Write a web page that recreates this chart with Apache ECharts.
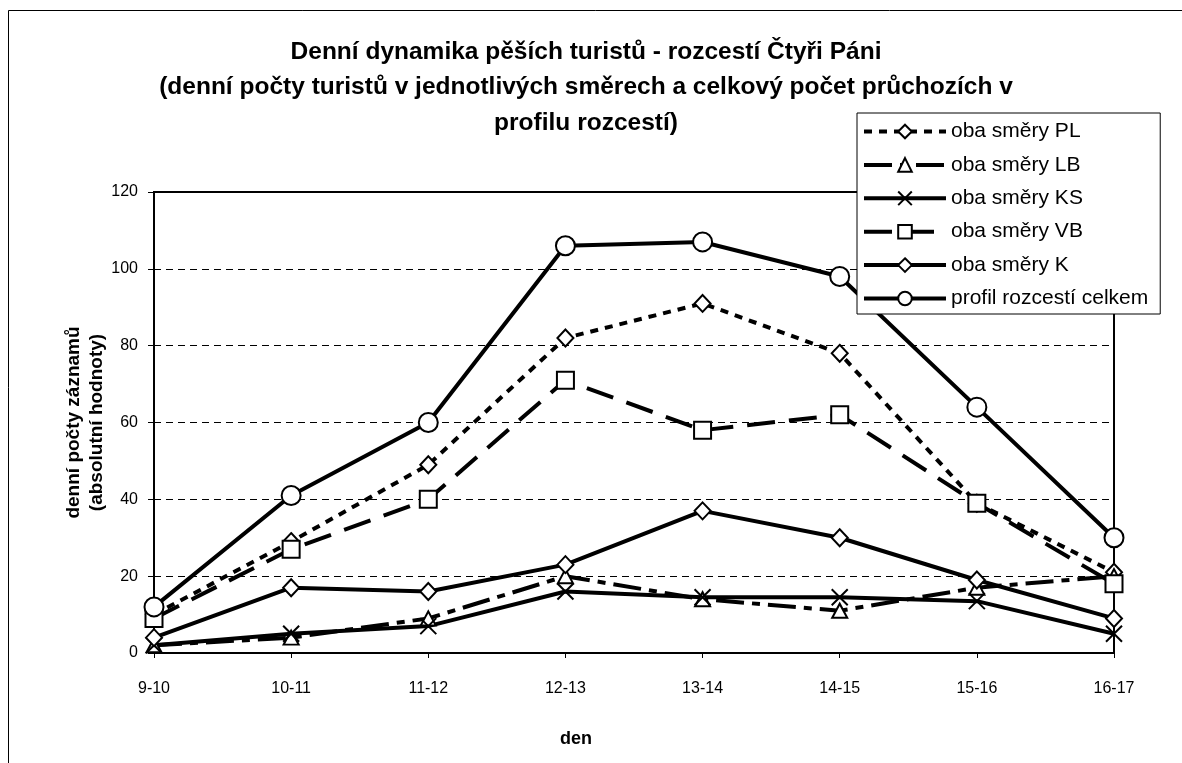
<!DOCTYPE html>
<html>
<head>
<meta charset="utf-8">
<script src="https://cdn.jsdelivr.net/npm/echarts@6/dist/echarts.min.js"></script>
<style>html,body{margin:0;padding:0;background:#fff;}#c{width:1182px;height:763px;}</style>
</head>
<body>
<div id="c"></div>
<script>
const categories = ['9-10','10-11','11-12','12-13','13-14','14-15','15-16','16-17'];
const seriesNames = ['oba směry PL','oba směry LB','oba směry KS','oba směry VB','oba směry K','profil rozcestí celkem'];
const valuesPL = [10, 29, 49, 82, 91, 78, 39, 21];
const valuesLB = [2, 4, 9, 20, 14, 11, 17, 20];
const valuesKS = [2, 5, 7, 16, 14.5, 14.5, 13.5, 5];
const valuesVB = [9, 27, 40, 71, 58, 62, 39, 18];
const valuesK = [4, 17, 16, 23, 37, 30, 19, 9];
const valuesTotal = [12, 41, 60, 106, 107, 98, 64, 30];
const yTicks = {min: 0, max: 120, interval: 20};

const FONT = '"Liberation Sans", Arial, sans-serif';
const chart = echarts.init(document.getElementById('c'), null, {renderer: 'canvas'});

function mk(name, data, symbol, size, dash) {
  return {
    name: name, type: 'line', data: data,
    symbol: symbol, symbolSize: size, showSymbol: true,
    lineStyle: {color: '#000', width: 4, type: dash},
    itemStyle: {color: '#fff', borderColor: '#000', borderWidth: 2},
    emphasis: {disabled: true},
    animation: false
  };
}
const X_PATH = 'path://M0,0L10,10M10,0L0,10';

const option = {
  backgroundColor: '#fff',
  animation: false,
  title: {
    text: 'Denní dynamika pěších turistů - rozcestí Čtyři Páni\n(denní počty turistů v jednotlivých směrech a celkový počet průchozích v\nprofilu rozcestí)',
    left: 581, top: 29, textAlign: 'center',
    textStyle: {fontFamily: FONT, fontSize: 24.5, fontWeight: 'bold', color: '#000', lineHeight: 35.5}
  },
  legend: {
    orient: 'vertical', left: 857, top: 113,
    padding: [8, 12, 5, 5],
    itemWidth: 82, itemHeight: 17, itemGap: 12.4,
    backgroundColor: '#fff', borderColor: '#000', borderWidth: 1,
    lineStyle: {width: 4},
    textStyle: {fontFamily: FONT, fontSize: 21, color: '#000'},
    data: seriesNames
  },
  grid: {left: 154, right: 68, top: 192, bottom: 110, show: true, borderColor: '#000', borderWidth: 2, containLabel: false},
  xAxis: {
    type: 'category', data: categories, boundaryGap: false,
    axisLine: {lineStyle: {color: '#000', width: 2}},
    axisTick: {show: true, length: 5, lineStyle: {color: '#000', width: 1}},
    axisLabel: {fontFamily: FONT, fontSize: 16, color: '#000', margin: 28}
  },
  yAxis: {
    type: 'value', min: yTicks.min, max: yTicks.max, interval: yTicks.interval,
    name: 'denní počty záznamů\n(absolutní hodnoty)',
    nameLocation: 'middle', nameRotate: 90, nameGap: 46, nameMoveOverlap: false,
    nameTextStyle: {fontFamily: FONT, fontSize: 19, fontWeight: 'bold', color: '#000', lineHeight: 23},
    axisLine: {show: true, lineStyle: {color: '#000', width: 2}},
    axisTick: {show: true, length: 6, lineStyle: {color: '#000', width: 1}},
    axisLabel: {fontFamily: FONT, fontSize: 16, color: '#000', margin: 16},
    splitLine: {show: true, lineStyle: {color: '#000', width: 1, type: [7, 5]}}
  },
  graphic: [
    {type: 'rect', silent: true, z: -10, shape: {x: 8.5, y: 10.5, width: 1400, height: 1000}, style: {fill: 'none', stroke: '#000', lineWidth: 1}},
    {type: 'text', silent: true, left: 560, top: 730, style: {text: 'den', font: 'bold 18px ' + FONT, fill: '#000'}}
  ],
  series: [
    mk(seriesNames[0], valuesPL, 'diamond', [16, 17], [8, 7]),
    mk(seriesNames[1], valuesLB, 'triangle', [15, 14], [28, 8, 8, 8]),
    mk(seriesNames[2], valuesKS, X_PATH, 16, 'solid'),
    mk(seriesNames[3], valuesVB, 'rect', 17, [28, 14]),
    mk(seriesNames[4], valuesK, 'diamond', [16, 17], 'solid'),
    mk(seriesNames[5], valuesTotal, 'circle', 19, 'solid')
  ]
};
chart.setOption(option);
</script>
</body>
</html>
